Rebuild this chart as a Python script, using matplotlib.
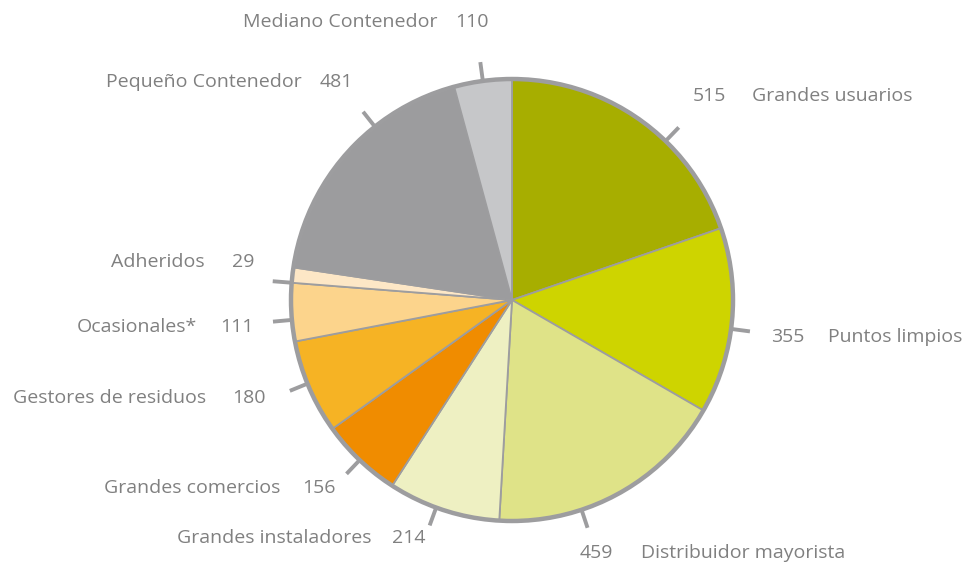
import numpy as np
import matplotlib.pyplot as plt

categories = ["Grandes usuarios", "Puntos limpios", "Distribuidor mayorista",
              "Grandes instaladores", "Grandes comercios", "Gestores de residuos",
              "Ocasionales*", "Adheridos", "Pequeño Contenedor", "Mediano Contenedor"]
values = [515, 355, 459, 214, 156, 180, 111, 29, 481, 110]
colors = ["#A7AE00", "#CED400", "#DFE388", "#EEF0C2", "#F08C00",
          "#F6B324", "#FCD48C", "#FDE7C6", "#9C9C9E", "#C6C7C9"]

# label layout in pixel coords (x, y from top): number, name, side
num_pos = [(693, 96), (771, 337), (580, 553), (392, 538), (302, 488),
           (232, 398), (220, 327), (232, 262), (320, 82), (455, 22)]
name_pos = [(752, 96), (828, 337), (641, 553), (372, 538), (280, 488),
            (206, 398), (197, 327), (205, 262), (302, 82), (438, 22)]
name_ha = ["left", "left", "left", "right", "right",
           "right", "right", "right", "right", "right"]
# small shift of the leader ticks from the wedge middle (degrees)
tick_shift = [-8.5, -2, -10, -2, 0, -1, 2, 2, -10, 0]

W, H = 969, 567
cx, cy, R = 512, H - 300, 221
grey = "#9D9D9F"
txt = "#808080"

fig = plt.figure(figsize=(W / 100, H / 100), dpi=100)
ax = fig.add_axes([0, 0, 1, 1])
ax.set_xlim(0, W)
ax.set_ylim(0, H)
ax.set_aspect("equal")
ax.axis("off")

wedges, _ = ax.pie(values, colors=colors, startangle=90, counterclock=False,
                   center=(cx, cy), radius=R,
                   wedgeprops=dict(edgecolor=grey, linewidth=1.3))
ax.set_xlim(0, W)
ax.set_ylim(0, H)
ax.add_patch(plt.Circle((cx, cy), R, fill=False, edgecolor=grey, lw=3.2, zorder=5))

for w, s in zip(wedges, tick_shift):
    a = np.deg2rad((w.theta1 + w.theta2) / 2 + s)
    ax.plot([cx + (R + 1) * np.cos(a), cx + (R + 19) * np.cos(a)],
            [cy + (R + 1) * np.sin(a), cy + (R + 19) * np.sin(a)],
            color=grey, lw=2.8, solid_capstyle="butt")

fam = ["Open Sans", "DejaVu Sans"]
for i, v in enumerate(values):
    ax.text(num_pos[i][0], H - num_pos[i][1], str(v), ha="left", va="center",
            fontsize=14, color=txt, family=fam)
    ax.text(name_pos[i][0], H - name_pos[i][1], categories[i], ha=name_ha[i],
            va="center", fontsize=14, color=txt, family=fam)

fig.savefig("out.png", dpi=100)
